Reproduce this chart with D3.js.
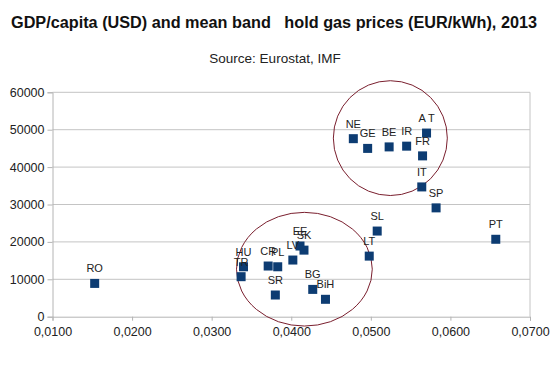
<!DOCTYPE html>
<html><head><meta charset="utf-8">
<script src="https://cdn.jsdelivr.net/npm/d3@7"></script>
<style>
html,body{margin:0;padding:0;background:#fff;}
svg{display:block;}
text{font-family:"Liberation Sans",Arial,sans-serif;}
</style></head>
<body>
<script>
const countries = ["RO","HU","TR","CR","PL","LV","EE","SK","SR","BG","BiH","NE","GE","BE","IR","AT","FR","IT","SP","SL","LT","PT"];
const labels    = ["RO","HU","TR","CR","PL","LV","EE","SK","SR","BG","BiH","NE","GE","BE","IR","A T","FR","IT","SP","SL","LT","PT"];
const gasPrice  = [0.0153,0.0340,0.0337,0.0371,0.0383,0.0402,0.0411,0.0416,0.0380,0.0427,0.0443,0.0478,0.0496,0.0523,0.0545,0.0570,0.0565,0.0564,0.0582,0.0508,0.0498,0.0657];
const gdpCapita = [8900,13350,10700,13550,13350,15150,18900,17800,5800,7300,4650,47600,45000,45400,45600,49100,43000,34700,29100,22900,16200,20700];
const xTicks = [0.01,0.02,0.03,0.04,0.05,0.06,0.07];
const yTicks = [0,10000,20000,30000,40000,50000,60000];
// annotation ellipses (data units): [cx, cy, rx, ry]
const ellipses = [[0.05245,47750,0.00716,15350],[0.04165,12700,0.00853,15200]];

const W=550,H=367;
const svg=d3.select("body").append("svg").attr("width",W).attr("height",H);
const x=d3.scaleLinear().domain([0.01,0.07]).range([52.5,530]);
const y=d3.scaleLinear().domain([0,60000]).range([316.7,92.3]);

svg.append("text").attr("x",274).attr("y",28).attr("text-anchor","middle")
  .attr("font-size",16).attr("font-weight","bold").attr("fill","#111")
  .attr("textLength",526).attr("lengthAdjust","spacingAndGlyphs")
  .style("white-space","pre")
  .text("GDP/capita (USD) and mean band   hold gas prices (EUR/kWh), 2013");
svg.append("text").attr("x",275).attr("y",63).attr("text-anchor","middle")
  .attr("font-size",13.5).attr("fill","#222").text("Source: Eurostat, IMF");

const fmtX=d=>d3.format(".4f")(d).replace(".",",");
const grid="#c4c4c4";
// gridlines
svg.append("g").selectAll("line").data(yTicks.slice(1)).join("line")
  .attr("x1",x(0.01)).attr("x2",x(0.07)).attr("y1",d=>y(d)).attr("y2",d=>y(d))
  .attr("stroke",grid).attr("stroke-width",1);
svg.append("line").attr("x1",x(0.07)).attr("x2",x(0.07)).attr("y1",y(60000)).attr("y2",y(0)).attr("stroke",grid);

const yAxis=d3.axisLeft(y).tickValues(yTicks).tickFormat(d3.format("d")).tickSize(5).tickPadding(3);
const gy=svg.append("g").attr("transform",`translate(${x(0.01)},0)`).call(yAxis);
const xAxis=d3.axisBottom(x).tickValues(xTicks).tickFormat(fmtX).tickSize(4).tickPadding(6);
const gx=svg.append("g").attr("transform",`translate(0,${y(0)})`).call(xAxis);
[gx,gy].forEach(g=>{
  g.select(".domain").attr("stroke","#b4b4b4");
  g.selectAll(".tick line").attr("stroke","#b4b4b4");
  g.selectAll(".tick text").attr("font-size",12.5).attr("fill","#222").attr("font-family","Liberation Sans, Arial, sans-serif");
});

// ellipses
svg.append("g").selectAll("ellipse").data(ellipses).join("ellipse")
  .attr("cx",d=>x(d[0])).attr("cy",d=>y(d[1]))
  .attr("rx",d=>x(d[0]+d[2])-x(d[0])).attr("ry",d=>y(0)-y(d[3]))
  .attr("fill","none").attr("stroke","#7a1f2e").attr("stroke-width",1);

const s=9;
const pts=countries.map((c,i)=>({c,l:labels[i],x:gasPrice[i],y:gdpCapita[i]}));
svg.append("g").selectAll("rect").data(pts).join("rect")
  .attr("x",d=>x(d.x)-s/2).attr("y",d=>y(d.y)-s/2).attr("width",s).attr("height",s)
  .attr("fill","#0d3c72");
svg.append("g").selectAll("text").data(pts).join("text")
  .attr("x",d=>x(d.x)).attr("y",d=>y(d.y)-11).attr("text-anchor","middle")
  .attr("font-size",11).attr("fill","#222").style("white-space","pre").text(d=>d.l);
</script>
</body></html>
